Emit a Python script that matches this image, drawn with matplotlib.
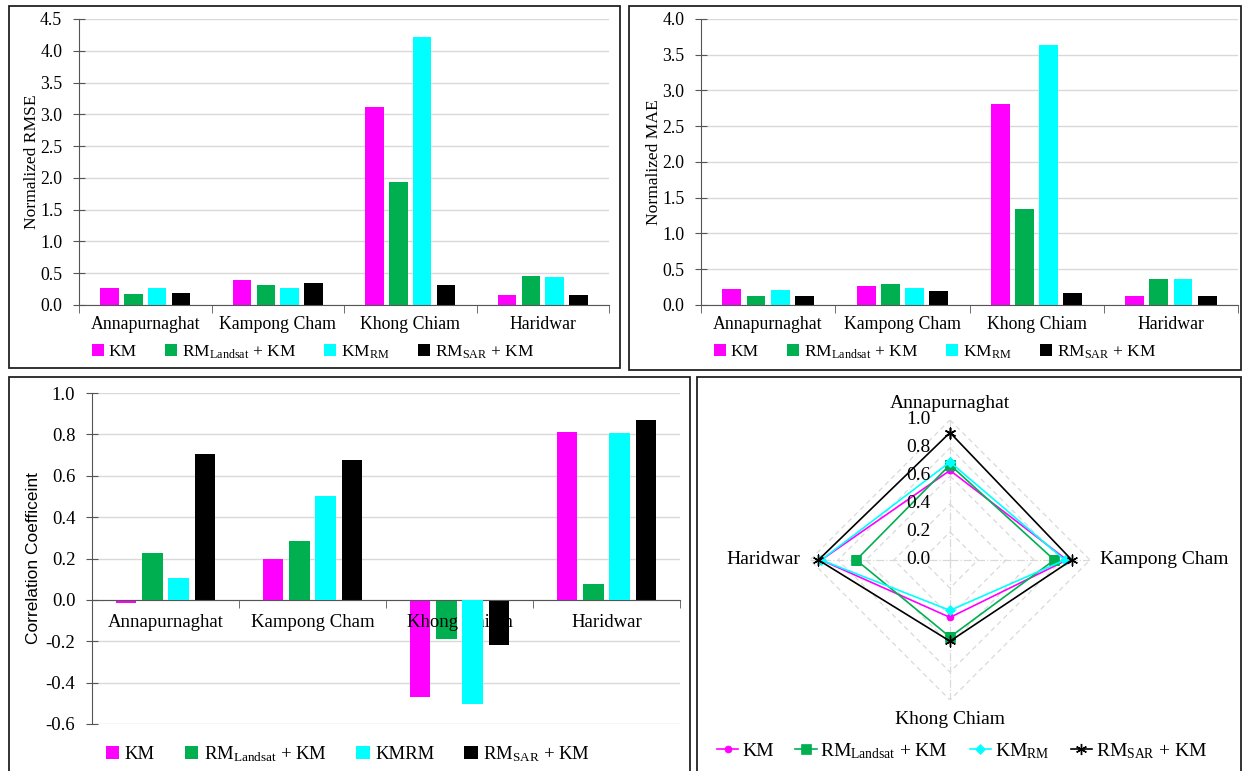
import numpy as np
import matplotlib
matplotlib.use('Agg')
import matplotlib.pyplot as plt
from matplotlib.patches import Rectangle, Patch
from matplotlib.lines import Line2D

plt.rcParams['font.family'] = ['Liberation Serif', 'DejaVu Serif']
plt.rcParams['mathtext.fontset'] = 'custom'
plt.rcParams['mathtext.rm'] = 'Liberation Serif'
plt.rcParams['mathtext.it'] = 'Liberation Serif'

# data
sites = ["Annapurnaghat", "Kampong Cham", "Khong Chiam", "Haridwar"]

rmse_km = [0.27, 0.39, 3.12, 0.16]
rmse_landsat = [0.18, 0.32, 1.93, 0.45]
rmse_kmrm = [0.26, 0.27, 4.21, 0.44]
rmse_sar = [0.19, 0.35, 0.31, 0.15]

mae_km = [0.23, 0.26, 2.81, 0.12]
mae_landsat = [0.13, 0.30, 1.34, 0.36]
mae_kmrm = [0.21, 0.24, 3.63, 0.36]
mae_sar = [0.13, 0.19, 0.17, 0.12]

cc_km = [-0.013, 0.20, -0.47, 0.813]
cc_landsat = [0.227, 0.285, -0.19, 0.078]
cc_kmrm = [0.104, 0.50, -0.504, 0.805]
cc_sar = [0.706, 0.675, -0.22, 0.87]

radar_km = [0.64, 0.835, 0.41, 0.92]
radar_landsat = [0.68, 0.745, 0.55, 0.67]
radar_kmrm = [0.70, 0.82, 0.36, 0.92]
radar_sar = [0.91, 0.87, 0.58, 0.94]

colors = ['#FF00FF', '#00B050', '#00FFFF', '#000000']
lab_landsat = r'RM$_{\mathrm{Landsat}}$ + KM'
lab_kmrm = r'KM$_{\mathrm{RM}}$'
lab_sar = r'RM$_{\mathrm{SAR}}$ + KM'

W, H = 1243, 771
fig = plt.figure(figsize=(W / 100, H / 100), dpi=100)


def frac(x0, y0, x1, y1):
    # pixel box (top-left origin) -> figure fraction [l, b, w, h]
    return [x0 / W, 1 - y1 / H, (x1 - x0) / W, (y1 - y0) / H]


# panel frames
for (x0, y0, x1, y1) in [(9, 6, 620, 368), (629, 6, 1241, 370),
                         (9, 377, 690, 790), (697, 377, 1241, 790)]:
    fig.add_artist(Rectangle((x0 / W, 1 - y1 / H), (x1 - x0) / W, (y1 - y0) / H,
                             transform=fig.transFigure, fill=False,
                             edgecolor='#222222', lw=1.3))


def bar_panel(ax, series, ylim, yticks, ylabel, fs, zorders=(3, 3, 3, 3), lpad=0):
    x = np.arange(len(sites))
    w, pitch = 0.14, 0.18
    for i, (vals, c) in enumerate(zip(series, colors)):
        ax.bar(x + (i - 1.5) * pitch, vals, width=w, color=c, zorder=zorders[i])
    ax.set_xlim(-0.5, len(sites) - 0.5)
    ax.set_ylim(*ylim)
    ax.set_yticks(yticks)
    ax.set_yticklabels([f'{t:.1f}' if abs(t) > 1e-9 else '0.0' for t in yticks],
                       fontsize=fs)
    ax.set_xticks(x)
    ax.set_xticks(np.arange(-0.5, len(sites)), minor=True)
    ax.tick_params(axis='x', which='major', length=0, labelsize=fs, pad=8)
    ax.tick_params(axis='x', which='minor', length=6, direction='out', color='#555555')
    ax.tick_params(axis='y', length=8, direction='inout', color='#555555', pad=8)
    ax.set_xticklabels(sites)
    ax.grid(axis='y', color='#d9d9d9', lw=1, zorder=0)
    for s in ['top', 'right']:
        ax.spines[s].set_visible(False)
    for s in ['left', 'bottom']:
        ax.spines[s].set_color('#555555')
        ax.spines[s].set_zorder(4)
    ax.set_ylabel(ylabel, fontsize=fs - 0.2, labelpad=lpad)


def bar_legend(labels, cx, cy, fs):
    handles = [Patch(facecolor=c, edgecolor='none') for c in colors]
    fig.legend(handles, labels, loc='center', bbox_to_anchor=(cx / W, 1 - cy / H),
               ncol=4, frameon=False, fontsize=fs, handlelength=0.7,
               handleheight=0.7, handletextpad=0.3, columnspacing=1.6)


ax1 = fig.add_axes(frac(79, 19, 609, 305))
bar_panel(ax1, [rmse_km, rmse_landsat, rmse_kmrm, rmse_sar], (0, 4.5),
          np.arange(0, 4.51, 0.5), 'Normalized RMSE', 12.8)
bar_legend(['KM', lab_landsat, lab_kmrm, lab_sar], 313, 352, 12.5)

ax2 = fig.add_axes(frac(701, 19, 1238, 305))
bar_panel(ax2, [mae_km, mae_landsat, mae_kmrm, mae_sar], (0, 4.0),
          np.arange(0, 4.01, 0.5), 'Normalized MAE', 12.8)
bar_legend(['KM', lab_landsat, lab_kmrm, lab_sar], 935, 352, 12.5)

ax3 = fig.add_axes(frac(92, 393, 680, 724))
cc_ticks = np.arange(-0.6, 1.01, 0.2)
bar_panel(ax3, [cc_km, cc_landsat, cc_kmrm, cc_sar], (-0.6, 1.0),
          cc_ticks, 'Correlation Coefficeint', 13.5, zorders=(3, 3, 6, 3))
ax3.set_ylabel('Correlation Coefficeint', fontsize=12.5, labelpad=3,
               family=['Liberation Sans', 'DejaVu Sans'])
ax3.spines['bottom'].set_position(('data', 0))
ax3.set_xticklabels([])
for i, s in enumerate(sites):
    ax3.annotate(s, xy=(i, 0), xytext=(0, -16), textcoords='offset points',
                 ha='center', va='center', fontsize=13.5, zorder=5)
bar_legend(['KM', lab_landsat, 'KMRM', lab_sar], 348, 754, 13.5)

# radar panel
cx, cy, R = 950, 560, 140
ax4 = fig.add_axes(frac(cx - R, cy - R, cx + R, cy + R), projection='polar')
ax4.set_theta_offset(np.pi / 2)
ax4.set_theta_direction(-1)
ax4.set_ylim(0, 1.0)
ax4.grid(False)
ax4.spines['polar'].set_visible(False)
ax4.set_xticks([])
ax4.set_yticks([])
ax4.patch.set_alpha(0)

ang = np.arange(len(sites)) * np.pi / 2
ang_c = np.append(ang, ang[0])
for r in np.arange(0.2, 1.01, 0.2):
    ax4.plot(ang_c, [r] * 5, ls=(0, (4, 3)), color='#d9d9d9', lw=0.9, zorder=1)
for a in ang:
    ax4.plot([a, a], [0, 1.0], ls='-.', color='#d9d9d9', lw=0.9, zorder=1)

radar_series = [radar_km, radar_landsat, radar_kmrm, radar_sar]
markers = ['o', 's', 'D', (6, 2, 0)]
msizes = [5, 7, 5, 8]
for vals, c, m, ms in zip(radar_series, colors, markers, msizes):
    v = np.append(vals, vals[0])
    ax4.plot(ang_c, v, color=c, lw=1.2, marker=m, ms=ms, zorder=3,
             mew=1.0 if c == '#000000' else 0.5)

for r in np.arange(0, 1.01, 0.2):
    ax4.annotate(f'{r:.1f}', xy=(0, r), xytext=(-14, 0), textcoords='offset points',
                 ha='right', va='center', fontsize=14, zorder=5)

ax4.annotate(sites[0], xy=(0, 1.0), xytext=(0, 6), textcoords='offset points',
             ha='center', va='bottom', fontsize=14)
ax4.annotate(sites[1], xy=(np.pi / 2, 1.0), xytext=(7, 0), textcoords='offset points',
             ha='left', va='center', fontsize=14)
ax4.annotate(sites[2], xy=(np.pi, 1.0), xytext=(0, -8), textcoords='offset points',
             ha='center', va='top', fontsize=14)
ax4.annotate(sites[3], xy=(3 * np.pi / 2, 1.0), xytext=(-7, 0), textcoords='offset points',
             ha='right', va='center', fontsize=14)

handles = [Line2D([], [], color=c, marker=m, ms=ms, lw=1.2,
                  mew=1.0 if c == '#000000' else 0.5)
           for c, m, ms in zip(colors, markers, msizes)]
fig.legend(handles, ['KM', lab_landsat, lab_kmrm, lab_sar], loc='center',
           bbox_to_anchor=(962 / W, 1 - 751 / H), ncol=4, frameon=False, fontsize=14,
           handlelength=1.1, handletextpad=0.2, columnspacing=1.1)

fig.savefig('out.png', dpi=100)
